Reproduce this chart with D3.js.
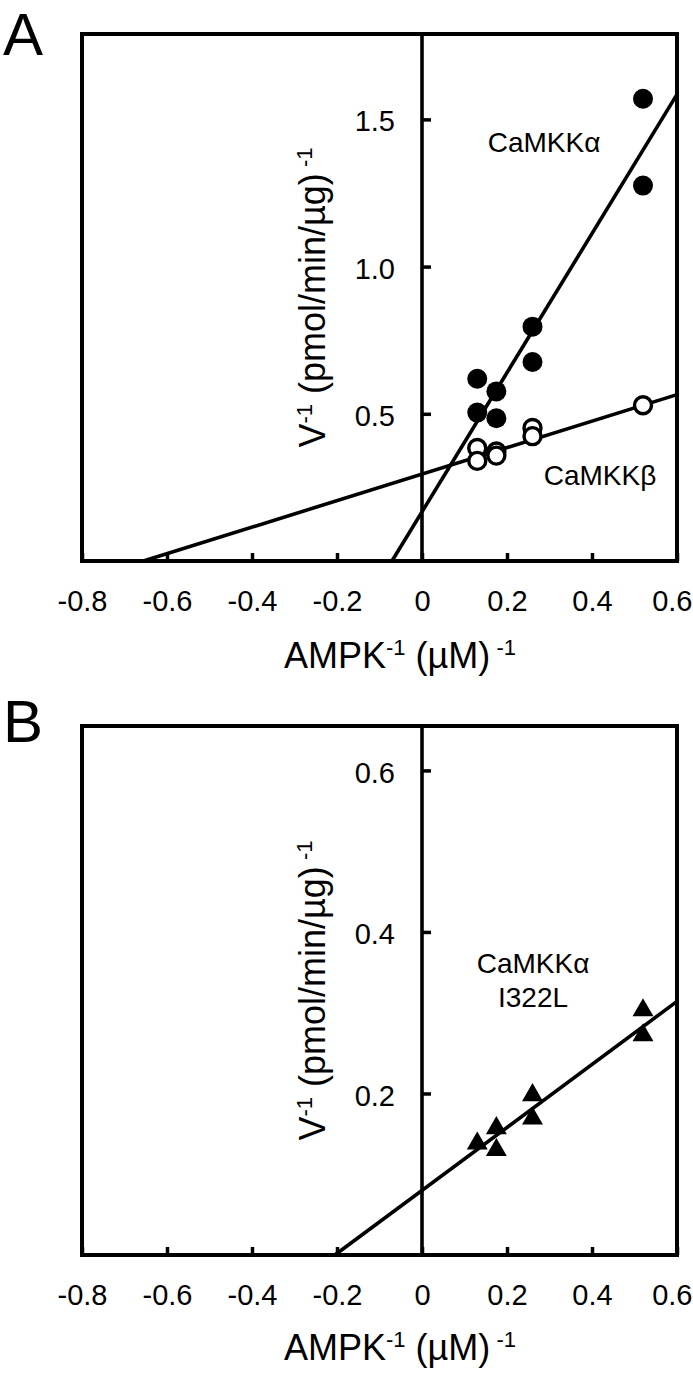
<!DOCTYPE html>
<html>
<head>
<meta charset="utf-8">
<script src="https://cdn.jsdelivr.net/npm/d3@7"></script>
<style>
  html, body { margin: 0; padding: 0; background: #fff; }
  svg { display: block; }
  text { font-family: "Liberation Sans", Arial, Helvetica, sans-serif; fill: #000; }
</style>
</head>
<body>
<svg id="chart" width="693" height="1373"></svg>
<script>
// ---------- data ----------
const xTicks = [-0.8, -0.6, -0.4, -0.2, 0, 0.2, 0.4, 0.6];
const xTickLabels = ["-0.8", "-0.6", "-0.4", "-0.2", "0", "0.2", "0.4", "0.6"];
const xDomain = [-0.8, 0.6];

// Panel A
const yDomainA = [0, 1.79];
const yTicksA = [0.5, 1.0, 1.5];
const yTickLabelsA = ["0.5", "1.0", "1.5"];
const alphaX = [0.13, 0.13, 0.175, 0.175, 0.26, 0.26, 0.52, 0.52];
const alphaY = [0.619, 0.504, 0.576, 0.485, 0.796, 0.676, 1.570, 1.275];
const betaX = [0.13, 0.13, 0.175, 0.175, 0.26, 0.26, 0.52];
const betaY = [0.384, 0.340, 0.372, 0.358, 0.452, 0.424, 0.529];
const alphaFit = { intercept: 0.167, slope: 2.363 };
const betaFit = { intercept: 0.295, slope: 0.45 };

// Panel B
const yDomainB = [0, 0.655];
const yTicksB = [0.2, 0.4, 0.6];
const yTickLabelsB = ["0.2", "0.4", "0.6"];
const mutX = [0.13, 0.175, 0.175, 0.26, 0.26, 0.52, 0.52];
const mutY = [0.138, 0.157, 0.130, 0.198, 0.169, 0.303, 0.272];
const mutFit = { intercept: 0.08, slope: 0.39 };

// ---------- drawing ----------
const svg = d3.select("#chart");
const W = 693;
const L = 82, R = 677;
const x = d3.scaleLinear().domain(xDomain).range([L, R]);

function fitLine(fit, ys) {
  const y0 = ys.domain()[0];
  let xStart = (y0 - fit.intercept) / fit.slope;
  if (xStart < xDomain[0]) xStart = xDomain[0];
  const xEnd = xDomain[1];
  return [[xStart, fit.intercept + fit.slope * xStart], [xEnd, fit.intercept + fit.slope * xEnd]];
}

function xTitle(g, cx, baseline) {
  const t = g.append("text").attr("x", cx).attr("y", baseline)
    .attr("text-anchor", "middle").attr("font-size", 36);
  t.append("tspan").text("AMPK");
  t.append("tspan").attr("font-size", 22).attr("dy", -13).text("-1");
  t.append("tspan").attr("dy", 13).text(" (\u00B5M)");
  t.append("tspan").attr("font-size", 22).attr("dy", -13).text(" -1");
}

function yTitle(g, bx, cy) {
  const t = g.append("text").attr("transform", `translate(${bx},${cy}) rotate(-90)`)
    .attr("text-anchor", "middle").attr("font-size", 36);
  t.append("tspan").text("V");
  t.append("tspan").attr("font-size", 22).attr("dy", -13).text("-1");
  t.append("tspan").attr("dy", 13).text(" (pmol/min/\u00B5g)");
  t.append("tspan").attr("font-size", 22).attr("dy", -13).text(" -1");
}

function panel(opts) {
  const { top, bottom, yDomain, yTicks, yTickLabels, letter, letterY } = opts;
  const y = d3.scaleLinear().domain(yDomain).range([bottom, top]);
  const g = svg.append("g");

  // panel letter
  g.append("text").attr("x", 3).attr("y", letterY).attr("font-size", 60).text(letter);

  // fitted lines
  opts.fits.forEach(fit => {
    const pts = fitLine(fit, y);
    g.append("line")
      .attr("x1", x(pts[0][0])).attr("y1", y(pts[0][1]))
      .attr("x2", x(pts[1][0])).attr("y2", y(pts[1][1]))
      .attr("stroke", "#000").attr("stroke-width", 3.6);
  });

  // x axis (ticks inward)
  const xa = d3.axisBottom(x).tickValues(xTicks)
    .tickFormat((d, i) => xTickLabels[i])
    .tickSizeInner(-8).tickSizeOuter(0).tickPadding(29);
  const gx = g.append("g").attr("transform", `translate(0,${bottom})`).call(xa);
  gx.select(".domain").remove();
  gx.selectAll(".tick line").attr("stroke", "#000").attr("stroke-width", 3.5);
  gx.selectAll(".tick text").attr("font-size", 29).attr("font-family", "Liberation Sans, Arial, sans-serif");
  gx.selectAll(".tick text").filter((d, i) => i === xTicks.length - 1)
    .attr("text-anchor", "end").attr("x", W - 1 - x(xTicks[xTicks.length - 1]));

  // y axis at x = 0 (ticks to the right, labels to the left)
  const ya = d3.axisLeft(y).tickValues(yTicks)
    .tickFormat((d, i) => yTickLabels[i])
    .tickSizeInner(-9).tickSizeOuter(0).tickPadding(27);
  const gy = g.append("g").attr("transform", `translate(${x(0)},0)`).call(ya);
  gy.select(".domain").remove();
  gy.selectAll(".tick line").attr("stroke", "#000").attr("stroke-width", 3.5);
  gy.selectAll(".tick text").attr("font-size", 29).attr("dy", "0.4em").attr("font-family", "Liberation Sans, Arial, sans-serif");
  g.append("line").attr("x1", x(0)).attr("x2", x(0)).attr("y1", top).attr("y2", bottom)
    .attr("stroke", "#000").attr("stroke-width", 3.6);

  // frame
  g.append("rect").attr("x", L).attr("y", top).attr("width", R - L).attr("height", bottom - top)
    .attr("fill", "none").attr("stroke", "#000").attr("stroke-width", 4);

  // points
  opts.series.forEach(s => {
    const data = s.xs.map((v, i) => ({ x: v, y: s.ys[i] }));
    if (s.type === "triangle") {
      g.selectAll(null).data(data).enter().append("path")
        .attr("d", d3.symbol(d3.symbolTriangle).size(190))
        .attr("transform", d => `translate(${x(d.x)},${y(d.y)})`)
        .attr("fill", "#000");
    } else {
      g.selectAll(null).data(data).enter().append("circle")
        .attr("cx", d => x(d.x)).attr("cy", d => y(d.y))
        .attr("r", s.type === "filled" ? 10 : 8.5)
        .attr("fill", s.type === "filled" ? "#000" : "#fff")
        .attr("stroke", "#000").attr("stroke-width", s.type === "filled" ? 0 : 3.4);
    }
  });

  // series labels
  opts.labels.forEach(lb => {
    const t = g.append("text").attr("x", lb.x).attr("y", lb.y).attr("text-anchor", "middle")
      .attr("font-size", 28);
    lb.lines.forEach((ln, i) => t.append("tspan").attr("x", lb.x).attr("dy", i === 0 ? 0 : 34).text(ln));
  });

  // titles
  xTitle(g, 400, opts.xTitleY);
  yTitle(g, 325, (top + bottom) / 2);
}

panel({
  top: 34, bottom: 561, yDomain: yDomainA, yTicks: yTicksA, yTickLabels: yTickLabelsA,
  letter: "A", letterY: 55, xTitleY: 668,
  fits: [alphaFit, betaFit],
  series: [
    { type: "filled", xs: alphaX, ys: alphaY },
    { type: "open", xs: betaX, ys: betaY }
  ],
  labels: [
    { x: 544, y: 152, lines: ["CaMKK\u03B1"] },
    { x: 600, y: 485, lines: ["CaMKK\u03B2"] }
  ]
});

panel({
  top: 726, bottom: 1255, yDomain: yDomainB, yTicks: yTicksB, yTickLabels: yTickLabelsB,
  letter: "B", letterY: 742, xTitleY: 1360,
  fits: [mutFit],
  series: [
    { type: "triangle", xs: mutX, ys: mutY }
  ],
  labels: [
    { x: 533, y: 973, lines: ["CaMKK\u03B1", "I322L"] }
  ]
});
</script>
</body>
</html>
